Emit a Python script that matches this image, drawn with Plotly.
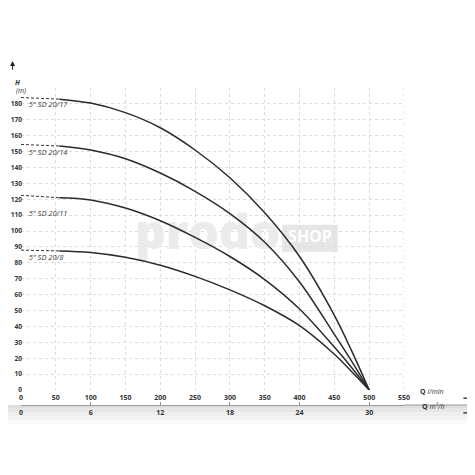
import plotly.graph_objects as go

# ---- data ----
Q_LMIN = [55, 100, 150, 200, 250, 300, 350, 400, 450, 475, 500]
H_20_17 = [183, 180.5, 174.5, 165, 151, 133.5, 111.5, 84, 47, 24.5, 0]
H_20_14 = [153.5, 151, 145.5, 136.5, 125, 111, 93, 68, 35, 18, 0]
H_20_11 = [121, 119.6, 114.5, 106.5, 96, 84, 69.5, 51, 27, 14, 0]
H_20_8 = [87.5, 86.5, 83.5, 78.5, 71.5, 63, 53, 40.5, 22.5, 11.5, 0]

DASH_Q = [0, 55]
DASH_20_17 = [184, 183]
DASH_20_14 = [154.5, 153.5]
DASH_20_11 = [122.5, 121]
DASH_20_8 = [88, 87.5]

SERIES = ['5" SD 20/17', '5" SD 20/14', '5" SD 20/11', '5" SD 20/8']
LABEL_Q = [11, 11, 11, 11]
LABEL_H = [179.5, 149, 110.5, 83]

X_TICKS = [0, 50, 100, 150, 200, 250, 300, 350, 400, 450, 500, 550]
Y_TICKS = [0, 10, 20, 30, 40, 50, 60, 70, 80, 90, 100, 110, 120, 130, 140, 150, 160, 170, 180]
M3H_TICKS = [0, 6, 12, 18, 24, 30]

solid = [H_20_17, H_20_14, H_20_11, H_20_8]
dashed = [DASH_20_17, DASH_20_14, DASH_20_11, DASH_20_8]

FONT = "Open Sans"
fig = go.Figure()

# watermark (behind curves)
fig.add_trace(go.Scatter(x=[268], y=[96], mode="text", text=["prodo"],
                         textfont=dict(family=FONT, size=48, color="#ebebeb", weight=800),
                         hoverinfo="skip", showlegend=False))
fig.add_shape(type="rect", xref="x", yref="y", x0=375, x1=455, y0=87, y1=104,
              fillcolor="#e6e6e6", line=dict(width=0), layer="below")
fig.add_trace(go.Scatter(x=[415], y=[95.5], mode="text", text=["SHOP"],
                         textfont=dict(family=FONT, size=16, color="#ffffff", weight=700),
                         hoverinfo="skip", showlegend=False))

for name, h, hd in zip(SERIES, solid, dashed):
    fig.add_trace(go.Scatter(x=DASH_Q, y=hd, mode="lines",
                             line=dict(color="#333333", width=1, dash="3px,2px"),
                             showlegend=False, hoverinfo="skip"))
    fig.add_trace(go.Scatter(x=Q_LMIN, y=h, mode="lines", name=name,
                             line=dict(color="#2b2b2b", width=1.5, shape="spline", smoothing=1.0),
                             showlegend=False))

fig.add_trace(go.Scatter(x=LABEL_Q, y=LABEL_H, mode="text", text=SERIES,
                         textposition="middle right",
                         textfont=dict(family=FONT, size=7.5, color="#3a3a3a", style="italic"),
                         showlegend=False, hoverinfo="skip"))

# invisible trace for the m3/h axis
fig.add_trace(go.Scatter(x=[0, 33], y=[0, 0], xaxis="x2", yaxis="y", mode="lines",
                         line=dict(width=0), showlegend=False, hoverinfo="skip"))

tickfont = dict(family=FONT, size=7, color="#333333", weight=700)
ytickfont = dict(family=FONT, size=6.6, color="#333333", weight=700)

fig.update_layout(
    width=467, height=467,
    margin=dict(l=13, r=71, t=80, b=70, autoexpand=False),
    paper_bgcolor="white", plot_bgcolor="white",
    xaxis=dict(range=[0, 550], tickvals=X_TICKS, showgrid=True, gridcolor="#dcdcdc",
               griddash="dot", gridwidth=1, zeroline=False, showline=False,
               ticks="", tickfont=tickfont, anchor="y", automargin=False,
               ticklabelstandoff=2),
    xaxis2=dict(range=[0, 33], tickvals=M3H_TICKS, overlaying="x", anchor="free",
                position=0, side="bottom", showgrid=False, zeroline=False,
                showline=True, linecolor="#9a9a9a", linewidth=1,
                ticks="inside", ticklen=3, tickcolor="#888888", tickfont=tickfont,
                automargin=False, ticklabelstandoff=1),
    yaxis=dict(range=[0, 190], domain=[0.0473, 1], tickvals=Y_TICKS, showgrid=True,
               gridcolor="#dcdcdc", griddash="dot", gridwidth=1, zeroline=False,
               ticks="", tickfont=ytickfont, ticklabelstandoff=-2, automargin=False),
)

# vertical grid line at right edge
fig.add_shape(type="line", xref="x", yref="y", x0=550, x1=550, y0=0, y1=190,
              line=dict(color="#dcdcdc", width=1, dash="dot"), layer="below")

# gray band under the lower axis
band = ["#dedede", "#e6e6e6", "#eeeeee", "#f4f4f4", "#f9f9f9"]
for i, c in enumerate(band):
    fig.add_shape(type="rect", xref="paper", yref="paper",
                  x0=-0.04, x1=1.19, y0=-0.012 * i, y1=-0.012 * (i + 1),
                  fillcolor=c, line=dict(width=0), layer="below")

# extension of the m3/h axis line
fig.add_shape(type="line", xref="paper", yref="paper", x0=1.0, x1=1.18, y0=0, y1=0,
              line=dict(color="#9a9a9a", width=1))

annos = [
    dict(x=1.11, y=0.022, text="<b>Q</b> <i>l/min</i>"),
    dict(x=1.11, y=-0.025, text="<b>Q</b> <i>m³/h</i>"),
    dict(x=-0.022, y=1.039, text="<b><i>H</i></b>"),
    dict(x=-0.018, y=1.012, text="<i>(m)</i>"),
]
for a in annos:
    fig.add_annotation(xref="paper", yref="paper", showarrow=False,
                       font=dict(family=FONT, size=7, color="#333333"), **a)

for yy in [0.022, -0.025]:
    fig.add_annotation(xref="paper", yref="paper", x=1.185, y=yy, ax=-13, ay=0,
                       text="", showarrow=True, arrowhead=2, arrowsize=1,
                       arrowwidth=1.2, arrowcolor="#222222")
fig.add_annotation(xref="paper", yref="paper", x=-0.022, y=1.085, ax=0, ay=10,
                   text="", showarrow=True, arrowhead=2, arrowsize=1,
                   arrowwidth=1, arrowcolor="#222222")

fig.write_html("out.html")
